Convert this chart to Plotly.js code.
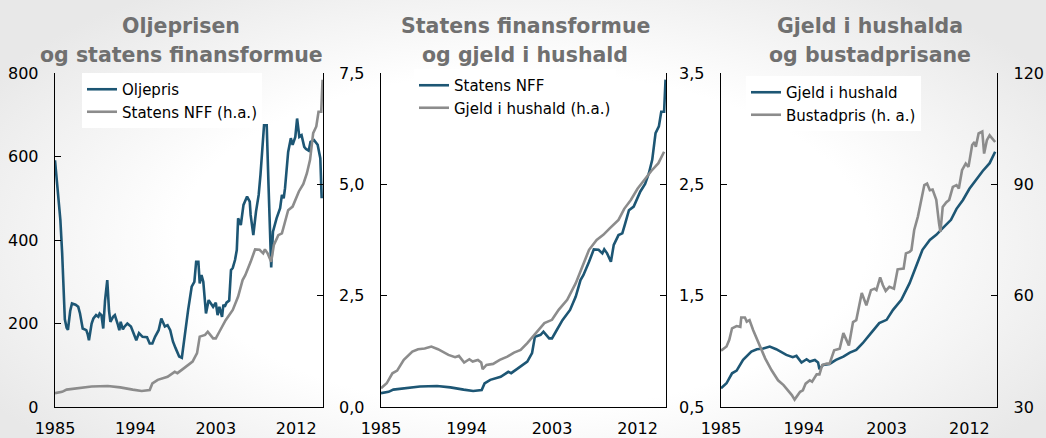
<!DOCTYPE html>
<html>
<head>
<meta charset="utf-8">
<script src="https://cdn.plot.ly/plotly-3.0.1.min.js"></script>
<style>
  html, body { margin: 0; padding: 0; }
  body {
    width: 1046px; height: 438px; overflow: hidden;
    background: radial-gradient(ellipse 60% 70% at 50% 55%, #ffffff 55%, #e8e8e8 100%);
  }
  #chart { width: 1046px; height: 438px; }
</style>
</head>
<body>
<div id="chart"></div>
<script>
// Oljepris (NOK per fat)
var oilYear = [1985.0,1985.3,1985.5,1985.6,1985.8,1985.95,1986.1,1986.3,1986.45,1986.7,1986.9,1987.3,1987.6,1987.8,1988.1,1988.5,1988.65,1988.8,
  1989.1,1989.3,1989.6,1989.85,1990.0,1990.2,1990.4,1990.6,1990.85,1991.05,1991.2,1991.5,1991.7,1992.0,1992.2,1992.35,1992.6,1992.8,
  1993.1,1993.5,1993.8,1994.1,1994.4,1994.8,1995.3,1995.6,1995.9,1996.2,1996.6,1996.9,1997.3,1997.6,1997.9,1998.2,1998.5,1998.9,
  1999.2,1999.55,1999.9,2000.3,2000.6,2000.8,2001.05,2001.2,2001.4,2001.6,2001.9,2002.2,2002.4,2002.7,2003.0,2003.2,2003.4,2003.7,
  2003.85,2004.0,2004.2,2004.5,2004.7,2004.9,2005.15,2005.35,2005.5,2005.8,2006.1,2006.5,2006.8,2006.9,2007.2,2007.5,2007.8,2008.0,
  2008.4,2008.7,2008.9,2009.1,2009.2,2009.4,2009.8,2010.2,2010.4,2010.6,2010.75,2011.1,2011.4,2011.6,2011.9,2012.1,2012.35,2012.6,
  2012.9,2013.1,2013.4,2013.6,2014.0,2014.4,2014.7,2014.85];
var oilPrice = [591,520,470,448,369,287,210,190,185,230,248,245,240,224,188,184,175,160,
  200,212,220,216,224,220,188,255,304,230,204,216,220,200,184,204,186,193,
  200,193,177,160,177,168,167,152,152,168,184,212,193,196,184,157,141,121,
  118,177,232,288,300,348,348,296,316,300,224,256,250,240,250,220,240,216,
  245,240,250,255,328,333,352,376,452,436,484,504,492,460,412,468,508,556,
  675,675,532,380,334,420,452,476,508,500,524,611,644,628,647,691,647,651,
  623,618,614,635,639,628,596,500];

// Statens NFF (1000 mrd. kr)
var nffYear = [1985.0,1985.8,1986.3,1987.7,1989.1,1990.9,1992.3,1993.7,1994.7,1995.6,1995.9,1996.5,1997.6,1998.4,1998.7,1999.3,
  2000.4,2000.9,2001.2,2001.8,2002.1,2002.7,2003.0,2003.4,2004.1,2004.9,2005.5,2006.0,2006.3,2006.9,2007.4,2007.9,
  2008.3,2008.5,2008.8,2009.2,2009.5,2010.0,2010.4,2010.7,2011.1,2011.6,2012.0,2012.3,2012.8,2013.2,2013.55,2013.9,
  2014.25,2014.5,2014.8,2014.95];
var nffValue = [0.31,0.34,0.39,0.43,0.46,0.47,0.44,0.39,0.36,0.38,0.53,0.61,0.68,0.79,0.76,0.85,
  1.02,1.21,1.58,1.62,1.69,1.54,1.54,1.69,1.95,2.18,2.48,2.85,2.96,3.26,3.54,3.53,
  3.45,3.54,3.45,3.26,3.64,3.86,3.90,4.12,4.42,4.50,4.72,4.84,5.01,5.25,5.55,6.15,
  6.30,6.63,6.63,7.35];

// Gjeld i hushald (1000 mrd. kr)
var debtYear = [1985.0,1985.6,1986.2,1986.7,1987.4,1988.3,1988.9,1989.6,1990.3,1991.0,1992.1,1992.8,1993.2,1993.75,1994.3,1994.65,
  1995.2,1995.55,1995.7,1996.1,1996.8,1997.5,1998.3,1998.6,1999.0,1999.7,2000.4,2001.3,2002.2,2003.0,2003.7,2004.6,
  2005.5,2006.2,2006.9,2007.7,2008.4,2009.1,2009.7,2010.0,2010.6,2011.3,2012.0,2012.7,2013.45,2014.2,2014.8];
var debtValue = [0.668,0.713,0.803,0.827,0.923,0.998,1.019,1.025,1.043,1.019,0.968,0.947,0.959,0.899,0.929,0.908,
  0.923,0.899,0.839,0.878,0.887,0.923,0.953,0.968,0.989,1.013,1.073,1.163,1.253,1.283,1.373,1.463,
  1.612,1.762,1.912,2.001,2.046,2.106,2.151,2.181,2.28,2.36,2.46,2.54,2.62,2.69,2.793];

// Bustadpris (indeks)
var houseYear = [1985.0,1985.6,1985.9,1986.2,1986.7,1987.1,1987.2,1987.6,1987.8,1988.1,1988.5,1989.0,1989.8,1990.5,1991.2,1991.8,
  1992.3,1992.7,1993.0,1993.2,1993.6,1993.9,1994.2,1994.65,1994.9,1995.4,1995.7,1996.0,1996.5,1996.8,1997.3,1997.6,
  1997.9,1998.3,1998.6,1998.9,1999.35,1999.7,2000.3,2000.5,2000.8,2001.3,2001.7,2001.9,2002.3,2002.6,2002.9,2003.3,
  2003.8,2004.2,2004.6,2004.85,2005.1,2005.5,2005.7,2006.0,2006.4,2006.8,2007.1,2007.4,2007.7,2008.0,2008.4,2008.7,
  2008.85,2009.1,2009.5,2009.8,2010.2,2010.6,2010.85,2011.2,2011.6,2011.9,2012.3,2012.55,2012.7,2013.0,2013.4,2013.6,
  2013.9,2014.2,2014.5,2014.8];
var housePrice = [45.2,46.3,48.1,51.2,51.8,51.6,54.1,54.1,53.0,53.4,50.7,47.6,43.1,39.9,37.2,35.9,
  34.5,33.2,32.0,32.7,34.1,34.5,36.3,37.2,36.8,38.8,38.8,41.3,41.7,41.7,45.3,45.5,
  45.7,49.9,48.0,46.6,52.9,53.4,60.7,59.2,57.4,61.5,61.9,61.5,64.9,62.8,61.3,62.4,
  61.9,67.1,67.1,67.3,71.4,71.8,72.3,77.7,81.3,85.8,89.8,90.2,88.4,88.6,85.8,79.5,
  77.2,83.9,85.2,85.8,89.3,89.8,88.9,93.8,95.6,94.7,100.6,101.4,100.1,103.7,104.2,98.3,
  101.9,103.2,102.4,101.4];

var yearTicks = [1985, 1994, 2003, 2012];
var yearLabels = ['1985', '1994', '2003', '2012'];
var titleLine1 = ['Oljeprisen', 'Statens finansformue', 'Gjeld i hushalda'];
var titleLine2 = ['og statens finansformue', 'og gjeld i hushald', 'og bustadprisane'];

var BLUE = '#1d5674', GREY = '#8c8c8c';
var W = 1046, H = 438;
function px(x) { return x / W; }
function py(y) { return 1 - y / H; }
var yDom = [py(407), py(73)];

function line(x, y, name, color, xa, ya, leg) {
  return { x: x, y: y, name: name, type: 'scatter', mode: 'lines', xaxis: xa, yaxis: ya, legend: leg,
           line: { color: color, width: 2.6 }, hoverinfo: 'skip' };
}

var data = [
  line(oilYear, oilPrice, 'Oljepris', BLUE, 'x', 'y', 'legend'),
  line(nffYear, nffValue, 'Statens NFF (h.a.)', GREY, 'x', 'y2', 'legend'),
  line(nffYear, nffValue, 'Statens NFF', BLUE, 'x2', 'y3', 'legend2'),
  line(debtYear, debtValue, 'Gjeld i hushald (h.a.)', GREY, 'x2', 'y4', 'legend2'),
  line(debtYear, debtValue, 'Gjeld i hushald', BLUE, 'x3', 'y5', 'legend3'),
  line(houseYear, housePrice, 'Bustadpris (h. a.)', GREY, 'x3', 'y6', 'legend3')
];

var tickFont = { family: 'DejaVu Sans', size: 16, color: '#000' };
function xax(dom, anchor) {
  return { domain: dom, anchor: anchor, range: [1985, 2015], tickvals: yearTicks, ticktext: yearLabels,
           showline: true, linecolor: '#000', linewidth: 1.3, ticks: '', showgrid: false, zeroline: false,
           tickfont: tickFont, ticklabelstandoff: 6 };
}
function yax(range, dtick, anchor, side, labels, fmt, overlay) {
  var a = { range: range, dtick: dtick, tick0: range[0], anchor: anchor, side: side, domain: yDom,
            showline: true, linecolor: '#000', linewidth: 1.3, ticks: 'inside', ticklen: 6, tickcolor: '#000',
            showgrid: false, zeroline: false, showticklabels: labels, tickformat: fmt,
            tickfont: tickFont, ticklabelstandoff: 12 };
  if (overlay) a.overlaying = overlay;
  return a;
}

var legFont = { family: 'DejaVu Sans', size: 15, color: '#000' };
function leg(x, y) {
  return { x: x, y: y, xanchor: 'left', yanchor: 'top', bgcolor: '#ffffff', font: legFont,
           traceorder: 'normal', itemwidth: 30, tracegroupgap: 0 };
}

var titleFont = { family: 'DejaVu Sans', size: 20.5, color: '#707070', weight: 'bold' };
var annotations = [];
var titleCentre = [181, 525, 870];
for (var i = 0; i < 3; i++) {
  annotations.push({ text: titleLine1[i], x: px(titleCentre[i]), y: py(26), xref: 'paper', yref: 'paper',
                     xanchor: 'center', yanchor: 'middle', showarrow: false, font: titleFont });
  annotations.push({ text: titleLine2[i], x: px(titleCentre[i]), y: py(55), xref: 'paper', yref: 'paper',
                     xanchor: 'center', yanchor: 'middle', showarrow: false, font: titleFont });
}

var layout = {
  width: W, height: H,
  margin: { l: 0, r: 0, t: 0, b: 0 },
  paper_bgcolor: 'rgba(0,0,0,0)', plot_bgcolor: 'rgba(0,0,0,0)',
  separators: ', ',
  showlegend: true,
  xaxis: xax([px(55), px(323)], 'y'),
  xaxis2: xax([px(381), px(666)], 'y3'),
  xaxis3: xax([px(721), px(997)], 'y5'),
  yaxis: yax([0, 800], 200, 'x', 'left', true, 'd'),
  yaxis2: yax([0, 7.5], 2.5, 'x', 'right', false, '.1f', 'y'),
  yaxis3: yax([0, 7.5], 2.5, 'x2', 'left', true, '.1f'),
  yaxis4: yax([0.5, 3.5], 1, 'x2', 'right', false, '.1f', 'y3'),
  yaxis5: yax([0.5, 3.5], 1, 'x3', 'left', true, '.1f'),
  yaxis6: yax([30, 120], 30, 'x3', 'right', true, 'd', 'y5'),
  legend: leg(px(82), py(73)),
  legend2: leg(px(414), py(69)),
  legend3: leg(px(746), py(76)),
  annotations: annotations
};

Plotly.newPlot('chart', data, layout, { displayModeBar: false, staticPlot: true });
</script>
</body>
</html>
